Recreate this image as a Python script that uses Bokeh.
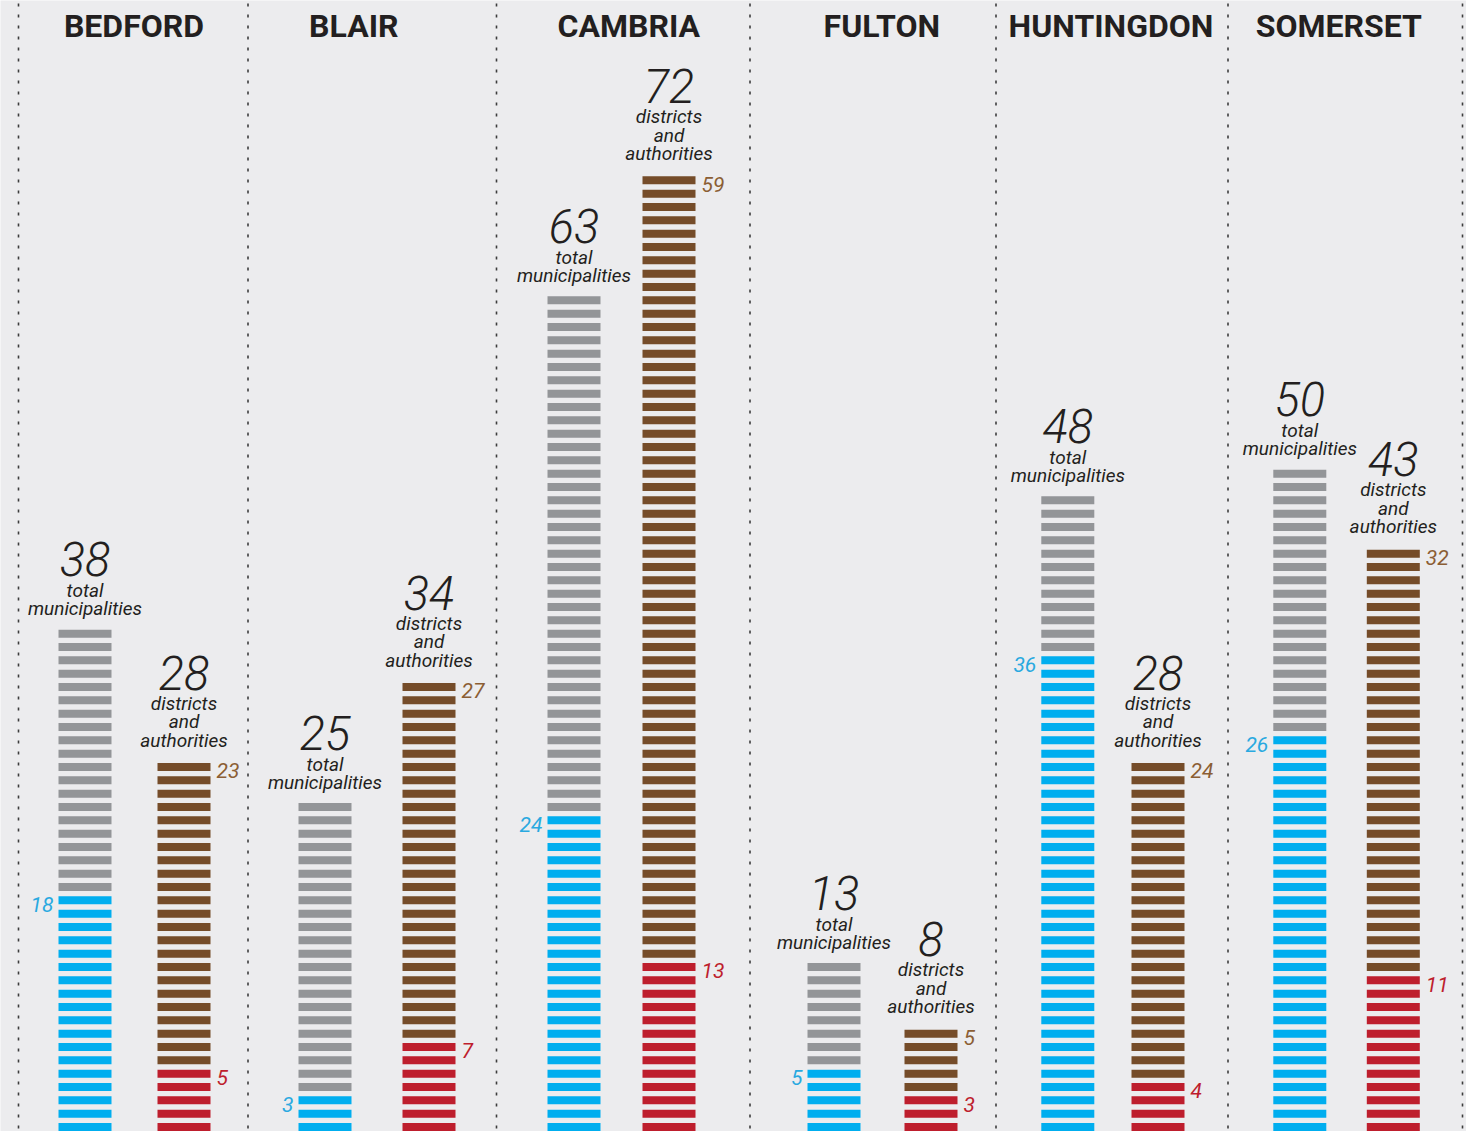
from bokeh.plotting import figure
from bokeh.models import ColumnDataSource, Range1d
from bokeh.core.properties import value
from bokeh.embed import file_html
from bokeh.resources import INLINE

# ---------------- data ----------------
counties = ["BEDFORD", "BLAIR", "CAMBRIA", "FULTON", "HUNTINGDON", "SOMERSET"]
total_municipalities = [38, 25, 63, 13, 48, 50]
blue_label = [18, 3, 24, 5, 36, 26]
blue_stripes = [18, 3, 24, 5, 36, 30]          # stripes as drawn in the picture
districts_total = [28, 34, 72, 8, 28, 43]
red_label = [5, 7, 13, 3, 4, 11]
red_stripes = [5, 7, 13, 3, 4, 12]             # stripes as drawn in the picture
brown_count = [23, 27, 59, 5, 24, 32]

# ---------------- layout (screen px) ----------------
FIG_W, FIG_H = 1466, 1131
PITCH = 40.0 / 3.0          # px per stripe
BASE = 1130.5               # screen y of count 0
STRIPE_PX = 8.0
STRIPE_H = STRIPE_PX / PITCH
BAR_W = 53
LEFT_X = [84.5, 324.5, 573.5, 833.5, 1067.3, 1299.3]
RIGHT_X = [183.5, 428.5, 668.5, 930.5, 1157.5, 1392.8]
TITLE_X = [133.5, 353.3, 628.3, 881.3, 1110.5, 1338.3]
SEP_X = [18, 247.5, 496, 749.5, 995.5, 1227.5, 1462]
BASELINE_FIX = 0.41         # renderer puts the alphabetic baseline this many em too low

BG = "#ececee"
GRAY = "#939598"
BLUE = "#00aeef"
BROWN = "#754c29"
RED = "#be1e2d"
BLUE_T = "#29a9e0"
BROWN_T = "#8b5e34"
RED_T = "#be1e2d"
INK = "#231f20"


def yd(screen_y):
    return (BASE - screen_y) / PITCH


def top_px(n):
    # screen y of the top edge of a bar of n stripes
    return BASE - (n - 1) * PITCH - STRIPE_PX


p = figure(width=FIG_W, height=FIG_H, output_backend="svg", toolbar_location=None,
           x_range=Range1d(0, FIG_W), y_range=Range1d(yd(FIG_H), yd(0)),
           min_border=0, outline_line_color=None,
           background_fill_color=BG, border_fill_color=BG)
p.axis.visible = False
p.grid.visible = False

# stripes
L, R, B, T, C = [], [], [], [], []
for i in range(len(counties)):
    for k in range(total_municipalities[i]):
        L.append(LEFT_X[i] - BAR_W / 2); R.append(LEFT_X[i] + BAR_W / 2)
        B.append(k); T.append(k + STRIPE_H)
        C.append(BLUE if k < blue_stripes[i] else GRAY)
    n_right = red_stripes[i] + brown_count[i]
    for k in range(n_right):
        L.append(RIGHT_X[i] - BAR_W / 2); R.append(RIGHT_X[i] + BAR_W / 2)
        B.append(k); T.append(k + STRIPE_H)
        C.append(RED if k < red_stripes[i] else BROWN)
p.quad(source=ColumnDataSource(dict(left=L, right=R, bottom=B, top=T, color=C)),
       left="left", right="right", bottom="bottom", top="top",
       fill_color="color", line_color=None)

# separators
p.segment(x0=SEP_X, x1=SEP_X, y0=[yd(3)] * len(SEP_X), y1=[yd(1135)] * len(SEP_X),
          line_color="#3c3c3c", line_width=1.6, line_dash="3 8")


def put(xs, baselines_px, texts, size, color, align="center", font="Roboto",
        style="italic"):
    ys = [yd(b - BASELINE_FIX * size) for b in baselines_px]
    p.text(x=xs, y=ys, text=texts, text_font=value(font), text_font_style=style,
           text_font_size=f"{size}px", text_align=align, text_baseline="alphabetic",
           text_color=color)


# titles
put(TITLE_X, [39] * len(counties), counties, 32, INK, style="bold")

NUM_FONT = "'Roboto Light', Roboto"

# headers above left bars
lt = [top_px(n) for n in total_municipalities]
put(LEFT_X, [t - 51 for t in lt], [str(n) for n in total_municipalities], 47, INK,
    font=NUM_FONT)
put(LEFT_X, [t - 31 for t in lt], ["total"] * 6, 19, INK)
put(LEFT_X, [t - 13 for t in lt], ["municipalities"] * 6, 19, INK)

# headers above right bars
rt = [top_px(r + b) for r, b in zip(red_stripes, brown_count)]
put(RIGHT_X, [t - 71 for t in rt], [str(n) for n in districts_total], 47, INK,
    font=NUM_FONT)
put(RIGHT_X, [t - 52 for t in rt], ["districts"] * 6, 19, INK)
put(RIGHT_X, [t - 33.5 for t in rt], ["and"] * 6, 19, INK)
put(RIGHT_X, [t - 15 for t in rt], ["authorities"] * 6, 19, INK)

# value labels (at the top stripe of each coloured part)
put([x - BAR_W / 2 - 5 for x in LEFT_X],
    [top_px(n) + STRIPE_PX + 8.5 for n in blue_stripes],
    [str(n) for n in blue_label], 21, BLUE_T, "right")
put([x + BAR_W / 2 + 6 for x in RIGHT_X],
    [top_px(n) + STRIPE_PX + 8.5 for n in red_stripes],
    [str(n) for n in red_label], 21, RED_T, "left")
put([x + BAR_W / 2 + 6 for x in RIGHT_X],
    [top_px(r + b) + STRIPE_PX + 8.5 for r, b in zip(red_stripes, brown_count)],
    [str(n) for n in brown_count], 21, BROWN_T, "left")

open("out.html", "w").write(file_html(p, INLINE))
